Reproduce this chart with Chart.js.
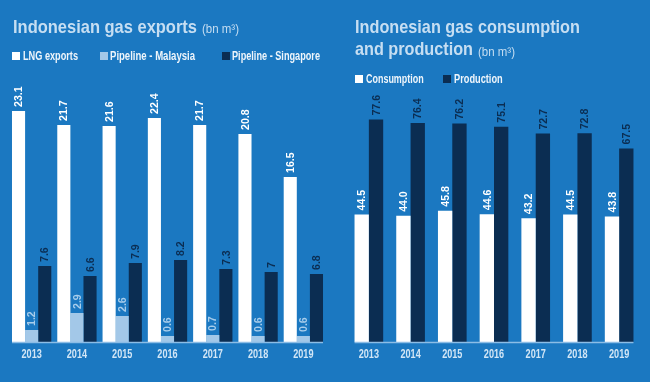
<!DOCTYPE html>
<html><head><meta charset="utf-8">
<script src="https://cdn.jsdelivr.net/npm/chart.js@4.4.1/dist/chart.umd.min.js"></script>
<style>
html,body{margin:0;padding:0;}
body{width:650px;height:382px;background:#1b78c1;position:relative;overflow:hidden;
 font-family:"Liberation Sans",Arial,sans-serif;}
canvas{position:absolute;top:0;}
.tx{position:absolute;white-space:nowrap;transform-origin:0 0;z-index:2;}
.t{color:#c6def2;font-weight:bold;font-size:18.5px;line-height:18px;}
.u{color:#c6def2;font-weight:normal;font-size:13px;line-height:13px;}
.lg{color:#eef5fb;font-weight:bold;font-size:12px;line-height:12px;}
.bx{position:absolute;width:8px;height:8px;z-index:2;}
</style></head>
<body>
<div class="tx t" data-w="184" style="left:13px;top:17.5px;">Indonesian gas exports</div>
<div class="tx u" data-w="37" style="left:202px;top:22px;">(bn m³)</div>
<div class="bx" style="left:12px;top:52px;background:#ffffff"></div>
<div class="tx lg" data-w="55" style="left:23px;top:49.8px;">LNG exports</div>
<div class="bx" style="left:100px;top:52px;background:#a3c8e8"></div>
<div class="tx lg" data-w="85" style="left:110px;top:49.8px;">Pipeline - Malaysia</div>
<div class="bx" style="left:222px;top:52px;background:#0b2d52"></div>
<div class="tx lg" data-w="88" style="left:232px;top:49.8px;">Pipeline - Singapore</div>

<div class="tx t" data-w="225" style="left:355px;top:17.8px;">Indonesian gas consumption</div>
<div class="tx t" data-w="118" style="left:355px;top:40.1px;">and production</div>
<div class="tx u" data-w="37" style="left:478px;top:44.5px;">(bn m³)</div>
<div class="bx" style="left:355px;top:75px;background:#ffffff"></div>
<div class="tx lg" data-w="57.7" style="left:366px;top:72.5px;">Consumption</div>
<div class="bx" style="left:443px;top:75px;background:#0b2d52"></div>
<div class="tx lg" data-w="48.7" style="left:454.3px;top:72.5px;">Production</div>

<canvas id="c1" width="335" height="382" style="left:0;width:335px;height:382px"></canvas>
<canvas id="c2" width="315" height="382" style="left:335px;width:315px;height:382px"></canvas>
<script>
const years = ["2013","2014","2015","2016","2017","2018","2019"];
const lngExports = [23.1, 21.7, 21.6, 22.4, 21.7, 20.8, 16.5];
const pipelineMalaysia = [1.2, 2.9, 2.6, 0.6, 0.7, 0.6, 0.6];
const pipelineSingapore = [7.6, 6.6, 7.9, 8.2, 7.3, 7, 6.8];
const consumption = [44.5, 44.0, 45.8, 44.6, 43.2, 44.5, 43.8];
const production = [77.6, 76.4, 76.2, 75.1, 72.7, 72.8, 67.5];

// condense HTML text to the reference's widths
document.querySelectorAll('.tx').forEach(el => {
  const w = parseFloat(el.dataset.w);
  const s = w / el.getBoundingClientRect().width;
  el.style.transform = 'scaleX(' + s + ')';
});

const FONT = '"Liberation Sans",Arial,sans-serif';

const deco = {
  id: 'deco',
  afterDatasetsDraw(chart) {
    const ctx = chart.ctx;
    const n = chart.data.datasets.length;
    chart.data.datasets.forEach((ds, di) => {
      const meta = chart.getDatasetMeta(di);
      meta.data.forEach((bar, i) => {
        const v = ds.data[i];
        const txt = ds.labelFmt ? ds.labelFmt(v) : String(v);
        ctx.save();
        ctx.translate(bar.x + 0.5, bar.y - 4);
        ctx.rotate(-Math.PI / 2);
        ctx.scale(0.92, 1);
        ctx.font = 'bold 11.5px ' + FONT;
        ctx.fillStyle = ds.labelColor;
        ctx.textAlign = 'left';
        ctx.textBaseline = 'middle';
        ctx.fillText(txt, 0, 0);
        ctx.restore();
      });
    });
    const first = chart.getDatasetMeta(0).data;
    const last = chart.getDatasetMeta(n - 1).data;
    const y0 = chart.scales.y.getPixelForValue(0);
    const x0 = first[0].x - first[0].width / 2;
    const lb = last[last.length - 1];
    const x1 = lb.x + lb.width / 2;
    ctx.save();
    ctx.strokeStyle = '#8cbde6';
    ctx.lineWidth = 1.5;
    ctx.beginPath();
    ctx.moveTo(x0, y0 + 0.5);
    ctx.lineTo(x1, y0 + 0.5);
    ctx.stroke();
    ctx.font = 'bold 12px ' + FONT;
    ctx.fillStyle = '#d2e6f6';
    ctx.textAlign = 'center';
    ctx.textBaseline = 'alphabetic';
    chart.data.labels.forEach((lab, i) => {
      ctx.save();
      ctx.translate(chart.scales.x.getPixelForValue(i), y0 + 16);
      ctx.scale(0.76, 1);
      ctx.fillText(lab, 0, 0);
      ctx.restore();
    });
    ctx.restore();
  }
};

function makeChart(id, datasets, max, pad, catPct) {
  return new Chart(document.getElementById(id), {
    type: 'bar',
    data: { labels: years, datasets },
    options: {
      responsive: false,
      animation: false,
      devicePixelRatio: 1,
      layout: { padding: pad },
      plugins: { legend: { display: false }, tooltip: { enabled: false } },
      datasets: { bar: { categoryPercentage: catPct, barPercentage: 1 } },
      scales: {
        x: { display: false },
        y: { display: false, min: 0, max: max }
      }
    },
    plugins: [deco]
  });
}

makeChart('c1', [
  { label: 'LNG exports', data: lngExports, backgroundColor: '#ffffff', labelColor: '#ffffff' },
  { label: 'Pipeline - Malaysia', data: pipelineMalaysia, backgroundColor: '#a3c8e8', labelColor: '#a8cdeb' },
  { label: 'Pipeline - Singapore', data: pipelineSingapore, backgroundColor: '#0b2d52', labelColor: '#0b2d52' }
], 26, { left: 9, right: 9, top: 82, bottom: 40 }, 0.868);

makeChart('c2', [
  { label: 'Consumption', data: consumption, backgroundColor: '#ffffff', labelColor: '#ffffff', labelFmt: v => v.toFixed(1) },
  { label: 'Production', data: production, backgroundColor: '#0b2d52', labelColor: '#0b2d52', labelFmt: v => v.toFixed(1) }
], 90, { left: 13, right: 10, top: 84, bottom: 40 }, 0.687);
</script>
</body></html>
